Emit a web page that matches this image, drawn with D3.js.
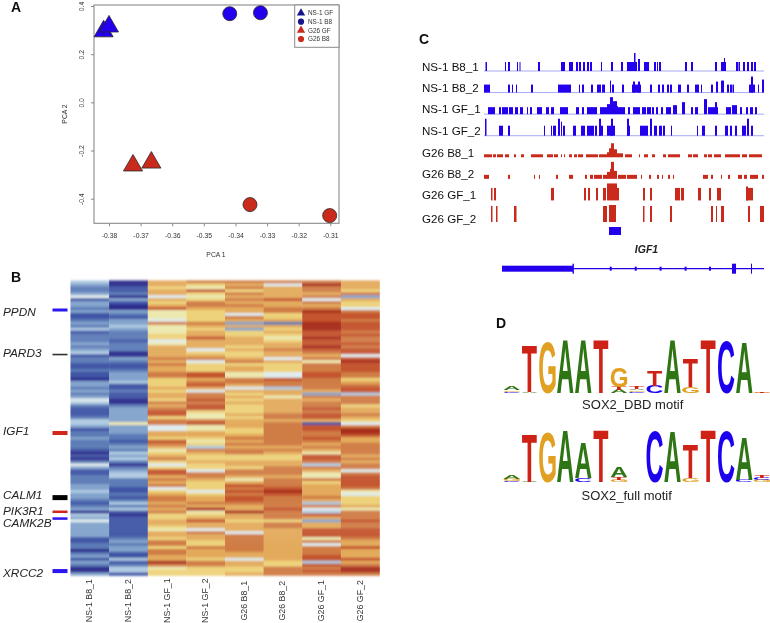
<!DOCTYPE html>
<html><head><meta charset="utf-8">
<script src="https://cdn.jsdelivr.net/npm/d3@7/dist/d3.min.js"></script>
<style>html,body{margin:0;padding:0;background:#fff}svg{display:block}text{font-family:"Liberation Sans",Arial,sans-serif}</style>
</head><body><svg id="c" width="770" height="623"></svg>
<script>
// ---------- Panel A data ----------
const pcaGroups = ["NS-1 GF","NS-1 B8","G26 GF","G26 B8"];
const pcaX = [-0.3817,-0.3800,-0.3724,-0.3666,-0.3418,-0.3321,-0.3354,-0.3102];
const pcaY = [0.295,0.315,-0.262,-0.250,0.368,0.372,-0.4245,-0.470];
const pcaG = ["NS-1 GF","NS-1 GF","G26 GF","G26 GF","NS-1 B8","NS-1 B8","G26 B8","G26 B8"];
const pcaXTicks = [-0.38,-0.37,-0.36,-0.35,-0.34,-0.33,-0.32,-0.31];
const pcaXLabels = ["-0.38","-0.37","-0.36","-0.35","-0.34","-0.33","-0.32","-0.31"];
const pcaYTicks = [0.4,0.2,0.0,-0.2,-0.4];
const pcaYLabels = ["0.4","0.2","0.0","-0.2","-0.4"];
// ---------- Panel B data (expression level per row, 0 = navy ... 11 = deep red) ----------
const sampleNames = ["NS-1 B8_1","NS-1 B8_2","NS-1 GF_1","NS-1 GF_2","G26 B8_1","G26 B8_2","G26 GF_1","G26 GF_2"];
const col1 = [4,3,2,2,3,5,1,3,3,2,3,1,1,2,3,2,4,1,2,2,2,3,2,3,4,1,2,2,1,1,2,1,1,
 0,3,3,2,3,2,3,5,4,2,1,1,1,2,4,4,3,1,2,2,3,2,2,2,1,0,1,0,2,5,3,1,1,2,
 2,2,3,3,4,3,3,2,1,2,3,0,4,3,5,3,3,3,3,3,1,1,2,2,0,2,3,1,3,2,0,0,3];
const col2 = [0,0,1,1,2,0,3,1,0,0,3,2,1,3,3,4,3,2,2,2,1,2,2,2,0,0,3,2,1,1,2,3,3,
 3,4,1,1,2,1,1,0,0,2,3,3,3,3,3,6,3,3,3,2,2,1,2,3,2,4,3,4,2,0,2,3,4,4,
 2,2,2,1,1,2,1,2,4,2,4,1,0,1,1,1,1,1,1,1,2,3,2,3,3,1,1,4,1,2,4,4,1];
const col3 = [8,8,7,8,8,5,8,7,8,10,6,6,6,5,9,6,6,6,7,7,5,6,8,8,8,8,9,8,9,8,8,9,9,
 7,7,7,8,7,8,8,7,9,8,9,10,10,7,9,9,5,5,8,8,7,10,9,8,6,7,8,9,7,5,7,10,10,8,
 9,8,9,5,7,8,9,9,8,9,8,9,7,7,8,8,7,6,8,8,7,9,9,7,9,9,8,8,11,9,6,7,7];
const col4 = [9,7,6,10,7,6,7,9,9,8,7,7,7,7,9,8,7,8,8,10,8,8,8,5,7,8,9,5,7,7,7,10,10,
 8,9,10,8,5,9,9,10,9,10,10,7,6,6,9,10,6,6,8,8,7,6,7,4,9,8,7,7,8,7,7,5,9,9,
 8,7,7,7,5,7,8,8,9,8,11,6,7,8,10,8,8,5,9,8,8,7,7,9,8,8,8,7,9,9,7,7,7];
const col5 = [9,8,9,7,9,8,9,8,9,8,8,5,9,8,3,8,3,7,7,8,8,8,7,8,7,7,8,9,7,8,8,6,6,
 9,9,8,5,8,7,8,7,8,7,7,7,8,7,8,8,8,7,7,8,9,8,9,8,9,9,7,7,8,8,7,9,9,8,
 6,8,10,9,10,9,10,10,9,8,8,11,8,8,7,8,8,8,5,9,9,9,9,9,9,8,8,5,8,8,7,7,8];
const col6 = [9,5,8,8,8,8,10,8,8,9,9,7,7,8,2,8,7,8,7,6,7,8,8,9,8,8,5,8,7,7,7,5,5,
 10,9,9,4,8,8,6,8,8,8,8,8,9,9,8,9,9,9,9,9,9,9,9,8,9,8,7,7,8,8,9,9,9,8,
 9,9,9,10,11,10,9,9,9,9,10,9,9,9,7,9,9,8,8,8,8,8,8,8,8,8,8,8,7,7,9,9,9];
const col7 = [9,11,9,9,8,9,5,9,8,9,11,10,10,10,11,11,11,10,10,11,10,10,11,10,9,8,9,6,9,9,9,10,10,
 9,9,9,9,8,3,9,8,9,9,10,9,10,10,8,1,10,10,9,9,10,9,8,9,8,6,10,10,9,4,9,8,6,6,
 9,7,8,8,8,8,9,8,4,9,5,4,10,8,3,8,8,10,10,10,6,9,5,9,9,9,10,10,4,10,9,10,9];
const col8 = [8,8,8,7,9,3,8,7,7,5,9,10,10,9,10,10,10,9,10,9,9,10,9,10,10,5,10,11,10,10,10,9,9,
 7,8,9,10,10,4,9,9,9,7,8,8,9,8,7,5,9,11,11,10,8,8,9,9,9,9,8,9,8,9,9,5,9,10,
 10,10,10,9,6,5,7,7,7,8,6,9,9,9,10,9,9,10,10,10,9,8,8,10,8,8,8,10,8,9,11,11,9];
const levelColors = ["#2a2c8c","#3f55a5","#5b7ab6","#82a3cc","#aecae2","#e0ecee","#ece8b0","#edd27a","#e3aa5c","#d07c44","#c4552f","#a82f1e"];
const geneNames = ["PPDN","PARD3","IGF1","CALM1","PIK3R1","CAMK2B","XRCC2"];
const geneRow = [10,25.1,51.7,73.6,78.4,80.7,98.5];
const geneColor = ["#2a12f0","#333333","#d0261c","#000000","#d0261c","#2a12f0","#2a12f0"];
const geneWeight = [3,1.6,4,5,2.5,2.5,4];
const geneLabelRow = [11.9,25.9,52.4,74,79.4,83.6,100.4];
// ---------- Panel C data: [start, end, signal] ----------
const trackNames = ["NS-1 B8_1","NS-1 B8_2","NS-1 GF_1","NS-1 GF_2","G26 B8_1","G26 B8_2","G26 GF_1","G26 GF_2"];
const trackDefault = [9,8,7,10,3,4,12.5,16];
const ns1B8a = [[1.5,3],[21,22],[24,26],[33,34],[35.5,36.5],[54,56],[77,81],[85,89],[92,94],[95,97],[99,101],[103,105],[106,108],[117,118],[127,129],[137,139],[143,153],[150,151.5,18],[154,156,12],[160,165],[170,172],[173,174],[175,177],[201,203],[207,209],[231,233],[237,242],[240,241,13],[252,254],[254.5,256],[259,261],[263,265],[267,269],[270,272]];
const ns1B8b = [[0,6],[24,26],[28,29],[32,33],[47,49],[74,87],[95,96],[98,100],[107,109],[113,117],[118,121],[126,127,12],[128,130],[138,140],[148,157],[149,151,11],[154,156,11],[166,168],[174,176],[178,180],[183,185],[186,188],[194,197],[203,205],[211,215],[217,218],[227,229],[232,234,11],[237,240,12],[243,245],[246,248],[248.5,250],[265,271],[267,269,16],[274,275],[278,280,13]];
const ns1GFa = [[4,11],[15,17],[18,24],[25,29],[31,34],[36,39],[43,44],[46,48],[53,58],[62,65],[67,70],[76,84],[92,95],[98,100],[103,106],[106,113],[116,123],[123,126,10],[126,129,17],[129,133,13],[133,134,8],[134,141],[144,146],[149,156],[158,162],[163,167],[168,170],[172,174],[177,179],[182,187],[189,193,9],[198,201,12],[207,209],[211,214],[220,223,15],[224,234],[231,233,12],[242,247],[248,253,9],[256,258],[262,264],[266,269],[271,273]];
const ns1GFb = [[1,2.5,17],[15,19],[24,26],[60,61],[67,68],[69,72],[74,76,17],[77,78,14],[79,81],[89,92],[97,101],[103,106],[106,110],[111,113],[115,119],[115,117,17],[123,131],[127,129,17],[143,146],[143,145,17],[156,159],[159,164],[166,168,17],[170,173],[175,178],[179,181],[187,188],[213,214],[218,221],[231,233],[241,244],[246,248],[251,253],[258,262],[263,265,17],[267,269]];
const g26B8a = [[0,8],[9,12],[13,19],[21,25],[30,32],[37,40],[47,59],[63,69],[70,74],[77,78],[80,81],[85,88],[90,93],[94,99],[102,106],[106,114],[115,123],[123,125,5],[125,127,9],[127,130,14],[130,133,8],[133,139,4],[141,148],[155,156],[160,164],[168,171],[179,182],[184,196],[204,208],[209,214],[220,223],[224,228],[230,237],[241,256],[258,263],[265,278]];
const g26B8b = [[0,5],[24,26],[50,51],[55,56],[72,74],[85,89],[101,103],[106,109],[110,118],[119,123],[123,126,7],[126,127,10],[127,130,17],[130,133,8],[134,142],[143,153],[157,158],[165,167],[173,175],[178,179],[184,186],[189,190],[219,224],[227,229],[237,238],[244,246],[254,258],[260,263],[266,274],[278,280]];
const g26GFa = [[7,8.5],[10,12],[67,70],[100,102],[104,106],[112,114],[119,122],[123,133,17],[133,135],[159,161],[166,168],[191,196],[197,200],[214,217],[225,227],[233,237],[262,269],[262,264,14]];
const g26GFb = [[7,8.5],[12,13.5],[30,32.5],[119,123],[125,132,17],[159,160.5],[166,168],[186,188],[227,229],[232,233],[237,240],[264,266],[276,278],[278,280]];
const trackData = [ns1B8a,ns1B8b,ns1GFa,ns1GFb,g26B8a,g26B8b,g26GFa,g26GFb];
const peakBox = [125,137];
const geneBody = [18,280];
const geneThick = [18,89];
const geneIntronMarks = [126.7,151.7,176.6,201.6,226];
const geneExons = [[248,252],[267,268]];
// ---------- Panel D data: stacks bottom-up [letter, bits] ----------
const logoDBD = [[["C",.06],["G",.05],["A",.14]],[["A",.06],["T",1.77]],[["G",1.96]],[["A",2]],[["A",2]],[["T",2]],[["A",.12],["T",.12],["G",.76]],[["C",.06],["G",.05],["A",.05],["T",.08]],[["C",.28],["T",.6]],[["A",2]],[["G",.23],["T",1.06]],[["T",2]],[["C",2]],[["A",1.94]],[["G",.02],["T",.03]]];
const logoFull = [[["C",.05],["G",.07],["A",.12]],[["A",.03],["T",1.8]],[["G",1.88]],[["A",1.96]],[["C",.15],["A",1.33]],[["T",1.99]],[["G",.09],["T",.1],["A",.41]],[],[["C",1.96]],[["A",1.92]],[["G",.15],["T",1.27]],[["T",1.99]],[["C",1.96]],[["C",.09],["A",1.62]],[["G",.08],["C",.07],["T",.1]]];
const baseColor = {A:"#2f7412",T:"#cf2418",G:"#e2a022",C:"#1c00ee"};

const BLUE="#2400ee", RED="#c92c1e", GREY="#8a8a8a", TXT="#333";
const svg=d3.select("#c");
const defs=svg.append("defs");
defs.append("filter").attr("id","soft").attr("x","-2%").attr("y","-2%").attr("width","104%").attr("height","104%")
  .append("feGaussianBlur").attr("stdDeviation",0.45);
defs.append("filter").attr("id","softer").attr("x","-2%").attr("y","-2%").attr("width","104%").attr("height","104%")
  .append("feGaussianBlur").attr("stdDeviation","0.3 0.8");
const root=svg.append("g").attr("filter","url(#soft)");
const heat=svg.append("g").attr("filter","url(#softer)");

// panel letters
[["A",11,12],["B",11,282],["C",419,44],["D",496,328]].forEach(d=>{
  root.append("text").text(d[0]).attr("x",d[1]).attr("y",d[2]).attr("font-size",14).attr("font-weight","bold").attr("fill","#111");
});

// ---------- A ----------
(function(){
  const x=d3.scaleLinear().domain([-0.38,-0.31]).range([109,330.3]);
  const y=d3.scaleLinear().domain([0.4,-0.4]).range([6,198.7]);
  const g=root.append("g");
  const L=94,R=339,T=5,B=223.3;
  g.append("rect").attr("x",L).attr("y",T).attr("width",R-L).attr("height",B-T).attr("fill","none").attr("stroke",GREY).attr("stroke-width",1.1);
  const ax=d3.axisBottom(x).tickValues(pcaXTicks).tickSize(3).tickFormat((d,i)=>pcaXLabels[i]);
  const xg=g.append("g").attr("transform",`translate(0,${B})`).call(ax);
  xg.select(".domain").remove();
  xg.selectAll("line").attr("stroke",GREY);
  xg.selectAll("text").attr("font-size",6.8).attr("fill",TXT).attr("dy",0).attr("y",15);
  const ay=d3.axisLeft(y).tickValues(pcaYTicks).tickSize(3).tickFormat((d,i)=>pcaYLabels[i]);
  const yg=g.append("g").attr("transform",`translate(${L},0)`).call(ay);
  yg.select(".domain").remove();
  yg.selectAll("line").attr("stroke",GREY);
  yg.selectAll("text").attr("font-size",6.8).attr("fill",TXT).attr("text-anchor","middle").attr("dy",0)
    .attr("x",0).attr("y",0).attr("transform",`translate(${83.5-L},0) rotate(-90)`);
  g.append("text").text("PCA 1").attr("x",216).attr("y",257).attr("text-anchor","middle").attr("font-size",6.8).attr("fill",TXT);
  g.append("text").text("PCA 2").attr("transform","translate(66.5,114) rotate(-90)").attr("text-anchor","middle").attr("font-size",6.8).attr("fill",TXT);
  const fill=d3.scaleOrdinal().domain(pcaGroups).range([BLUE,BLUE,RED,RED]);
  const legFill=d3.scaleOrdinal().domain(pcaGroups).range(["#16148c","#16148c",RED,RED]);
  const tri=d3.symbol().type(d3.symbolTriangle).size(158);
  const cir=d3.symbol().type(d3.symbolCircle).size(155);
  g.selectAll(".pt").data(pcaX.map((v,i)=>({x:v,y:pcaY[i],g:pcaG[i]}))).join("path")
    .attr("d",d=>d.g.includes("GF")?tri():cir())
    .attr("transform",d=>`translate(${x(d.x)},${y(d.y)})`)
    .attr("fill",d=>fill(d.g)).attr("stroke","#2a2a2a").attr("stroke-width",0.8);
  g.append("rect").attr("x",294.7).attr("y",T).attr("width",R-294.7).attr("height",42.3).attr("fill","#fff").attr("stroke",GREY).attr("stroke-width",1);
  const ly=d3.scalePoint().domain(pcaGroups).range([13,39]);
  const lt=d3.symbol().type(d3.symbolTriangle).size(30), lc=d3.symbol().type(d3.symbolCircle).size(30);
  pcaGroups.forEach(n=>{
    g.append("path").attr("d",n.includes("GF")?lt():lc()).attr("transform",`translate(301,${ly(n)})`).attr("fill",legFill(n));
    g.append("text").text(n).attr("x",308).attr("y",ly(n)+2.3).attr("font-size",6.4).attr("fill",TXT);
  });
})();

// ---------- B ----------
(function(){
  const cols=[col1,col2,col3,col4,col5,col6,col7,col8];
  const x=d3.scaleBand().domain(sampleNames).range([70.5,379.5]);
  const y=d3.scaleLinear().domain([0,100]).range([280.5,575.5]);
  const color=d3.scaleLinear().domain(levelColors.map((c,i)=>i)).range(levelColors);
  const g=root.append("g");
  sampleNames.forEach((s,c)=>{
    heat.append("g").selectAll("rect").data(cols[c]).join("rect")
      .attr("x",x(s)).attr("width",x.bandwidth()+0.3)
      .attr("y",(d,i)=>y(i)).attr("height",(d,i)=>y(i+1)-y(i)+0.2)
      .attr("fill",d=>color(d));
    g.append("text").text(s).attr("transform",`translate(${x(s)+x.bandwidth()/2+2.5},600.7) rotate(-90)`)
      .attr("text-anchor","middle").attr("font-size",8.8).attr("fill",TXT);
  });
  geneNames.forEach((n,i)=>{
    g.append("rect").attr("x",52.5).attr("width",15).attr("y",y(geneRow[i])-geneWeight[i]/2).attr("height",geneWeight[i]).attr("fill",geneColor[i]);
    g.append("text").text(n).attr("x",3).attr("y",y(geneLabelRow[i])).attr("font-size",11.8).attr("font-style","italic").attr("fill","#222");
  });
})();

// ---------- C ----------
(function(){
  const x=d3.scaleLinear().domain([0,280]).range([484,764]);
  const y=d3.scalePoint().domain(trackNames).range([71,222]);
  const g=root.append("g");
  const labelY=[70.7,92,113,135,156.7,178,199,222.7];
  trackNames.forEach((n,i)=>{
    g.append("text").text(n).attr("x",422).attr("y",labelY[i]).attr("font-size",11.6).attr("fill","#111");
    const c=i<4?BLUE:RED;
    if(i<4) g.append("line").attr("x1",x(0)).attr("x2",x(280)).attr("y1",y(n)).attr("y2",y(n)).attr("stroke","#a9a9f6").attr("stroke-width",1);
    g.append("g").selectAll("rect").data(trackData[i]).join("rect")
      .attr("x",d=>x(d[0])).attr("width",d=>x(d[1])-x(d[0]))
      .attr("y",d=>y(n)-(d[2]||trackDefault[i])).attr("height",d=>d[2]||trackDefault[i])
      .attr("fill",c);
  });
  g.append("rect").attr("x",x(peakBox[0])).attr("width",x(peakBox[1])-x(peakBox[0])).attr("y",227).attr("height",8).attr("fill",BLUE);
  g.append("text").text("IGF1").attr("x",646.5).attr("y",253).attr("text-anchor","middle").attr("font-size",10.5).attr("font-style","italic").attr("font-weight","bold").attr("fill","#222");
  const gy=268.7;
  g.append("line").attr("x1",x(geneBody[0])).attr("x2",x(geneBody[1])).attr("y1",gy).attr("y2",gy).attr("stroke",BLUE).attr("stroke-width",1.2);
  g.append("rect").attr("x",x(geneThick[0])).attr("width",x(geneThick[1])-x(geneThick[0])).attr("y",gy-3).attr("height",6).attr("fill",BLUE);
  g.append("rect").attr("x",x(geneThick[1])-.5).attr("width",1.4).attr("y",gy-5).attr("height",10).attr("fill",BLUE);
  geneIntronMarks.forEach(p=>g.append("rect").attr("x",x(p)-1).attr("width",2).attr("y",gy-2).attr("height",4).attr("fill",BLUE));
  geneExons.forEach(e=>g.append("rect").attr("x",x(e[0])).attr("width",x(e[1])-x(e[0])).attr("y",gy-5).attr("height",10).attr("fill",BLUE));
})();

// ---------- D ----------
(function(){
  const ctx=document.createElement("canvas").getContext("2d");
  ctx.font='bold 100px "Liberation Sans"';
  const ink={};
  "ACGT".split("").forEach(l=>{const m=ctx.measureText(l);ink[l]={l:-m.actualBoundingBoxLeft,r:m.actualBoundingBoxRight,a:m.actualBoundingBoxAscent,d:m.actualBoundingBoxDescent};});
  const x=d3.scaleLinear().domain([0,14]).range([511.7,762]);
  const g=root.append("g");
  function drawLogo(data,base){
    const y=d3.scaleLinear().domain([0,2]).range([base,base-52.7]);
    data.forEach((stack,i)=>{
      let acc=0;
      stack.forEach(([letter,bits])=>{
        const b=ink[letter];
        const W=letter==="T"?15:16.5;
        const h=y(acc)-y(acc+bits);
        const sx=W/(b.r-b.l), sy=h/(b.a+b.d);
        g.append("text").text(letter).attr("font-size",100).attr("font-weight","bold").attr("fill",baseColor[letter])
          .attr("transform",`translate(${x(i)-W/2-b.l*sx},${y(acc)-b.d*sy}) scale(${sx},${sy})`);
        acc+=bits;
      });
    });
  }
  drawLogo(logoDBD,393.3);
  drawLogo(logoFull,482.3);
  g.append("text").text("SOX2_DBD motif").attr("x",632.7).attr("y",409).attr("text-anchor","middle").attr("font-size",13).attr("fill","#222");
  g.append("text").text("SOX2_full motif").attr("x",626.7).attr("y",500).attr("text-anchor","middle").attr("font-size",13).attr("fill","#222");
})();
</script></body></html>
